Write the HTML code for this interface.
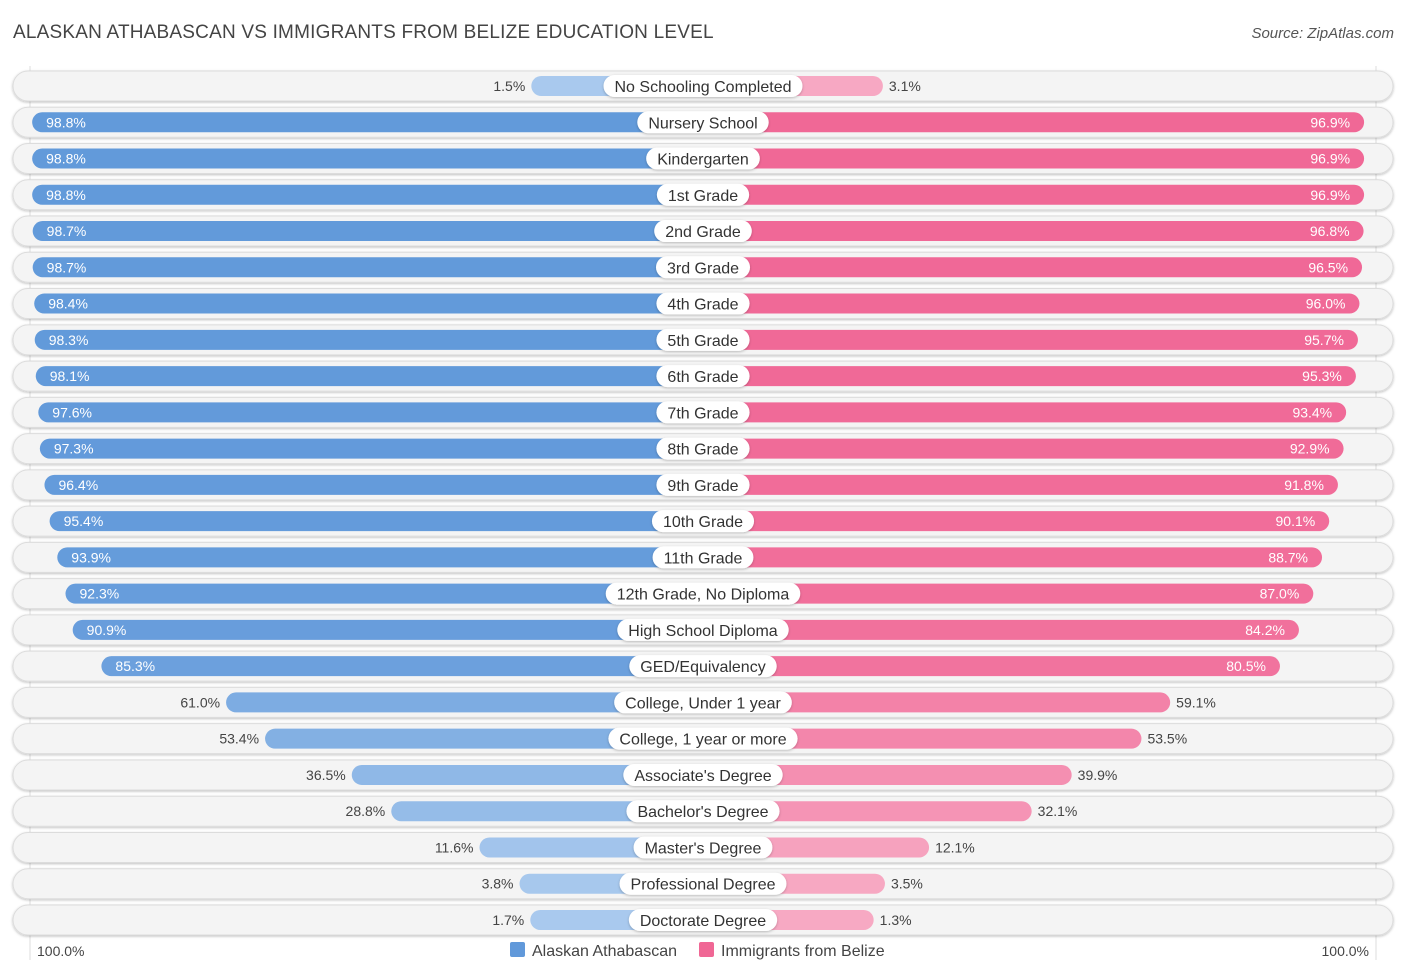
<!DOCTYPE html>
<html><head><meta charset="utf-8"><style>
body{margin:0;width:1406px;height:975px;background:#fff;font-family:"Liberation Sans",sans-serif;position:relative;overflow:hidden}
#title{position:absolute;left:13px;top:22px;font-size:19px;color:#444;letter-spacing:.2px}
#src{position:absolute;right:12px;top:25px;font-size:15px;color:#555;font-style:italic}
</style></head><body>
<div id="title">ALASKAN ATHABASCAN VS IMMIGRANTS FROM BELIZE EDUCATION LEVEL</div>
<div id="src">Source: ZipAtlas.com</div>
<svg id="chart" width="1406" height="975" style="position:absolute;left:0;top:0;font-family:'Liberation Sans',sans-serif"></svg>
<script>
const categories=["No Schooling Completed","Nursery School","Kindergarten","1st Grade","2nd Grade","3rd Grade","4th Grade","5th Grade","6th Grade","7th Grade","8th Grade","9th Grade","10th Grade","11th Grade","12th Grade, No Diploma","High School Diploma","GED/Equivalency","College, Under 1 year","College, 1 year or more","Associate's Degree","Bachelor's Degree","Master's Degree","Professional Degree","Doctorate Degree"];
const alaskan=[1.5,98.8,98.8,98.8,98.7,98.7,98.4,98.3,98.1,97.6,97.3,96.4,95.4,93.9,92.3,90.9,85.3,61.0,53.4,36.5,28.8,11.6,3.8,1.7];
const belize=[3.1,96.9,96.9,96.9,96.8,96.5,96.0,95.7,95.3,93.4,92.9,91.8,90.1,88.7,87.0,84.2,80.5,59.1,53.5,39.9,32.1,12.1,3.5,1.3];
const seriesNames=["Alaskan Athabascan","Immigrants from Belize"];
const axisLabel="100.0%";
const svg=document.getElementById('chart');const NS='http://www.w3.org/2000/svg';
const cx=703,y0=86,step=36.26;
function len(v){return 164+5.13*v;}
function rowY(i){return y0+i*step;}
function mix(a,b,t){return 'rgb('+a.map((x,k)=>Math.round(x+(b[k]-x)*t)).join(',')+')';}
const bL=[170,202,238],bD=[97,153,218],pL=[247,170,196],pD=[240,102,149];
function mk(tag,attrs,parent){const e=document.createElementNS(NS,tag);for(const k in attrs)e.setAttribute(k,attrs[k]);(parent||svg).appendChild(e);return e;}
const defs=mk('defs',{});
defs.innerHTML='<filter id="sh" x="-5%" y="-30%" width="110%" height="160%"><feDropShadow dx="0" dy="1" stdDeviation="1.2" flood-color="#000" flood-opacity="0.25"/></filter>';
let gl=mk('line',{x1:30,x2:30,y1:66,y2:960,stroke:'#ddd'});


gl=mk('line',{x1:1376,x2:1376,y1:66,y2:960,stroke:'#ddd'});


categories.forEach((c,i)=>{
 const y=rowY(i);
 const g=mk('g',{});
 
 
 const bg=mk('rect',{x:13,y:y-15,width:1380,height:30,rx:15,fill:'#f4f4f4',stroke:'#dcdcdc','stroke-width':1,filter:'url(#sh)'},g);
 
 
 const a=alaskan[i],b=belize[i];
 const la=len(a),lb=len(b);
 const ra=mk('rect',{x:cx-la,y:y-10,width:la,height:20,rx:10,fill:mix(bL,bD,a/100)},g);
 
 
 const rb=mk('rect',{x:cx,y:y-10,width:lb,height:20,rx:10,fill:mix(pL,pD,b/100)},g);
 
 
 const ins=a>70;
 const ta=mk('text',{x:ins?cx-la+14:cx-la-6,y:y+5,'font-size':14,fill:ins?'#fff':'#444','text-anchor':ins?'start':'end'},g);
 ta.textContent=a.toFixed(1)+'%';
 
 
 const insb=b>70;
 const tb=mk('text',{x:insb?cx+lb-14:cx+lb+6,y:y+5,'font-size':14,fill:insb?'#fff':'#444','text-anchor':insb?'end':'start'},g);
 tb.textContent=b.toFixed(1)+'%';
 
 
 const lt=mk('text',{x:cx,y:y+6,'font-size':16,fill:'#333','text-anchor':'middle'},g);
 lt.textContent=c;
 const w=lt.getComputedTextLength()+22;
 const pill=mk('rect',{x:cx-w/2,y:y-11,width:w,height:22,rx:11,fill:'#fff',filter:'url(#sh)'});
 g.insertBefore(pill,lt);
 
 
 
 
});
let t=mk('text',{x:37,y:956,'font-size':14,fill:'#444'});t.textContent=axisLabel;


t=mk('text',{x:1369,y:956,'font-size':14,fill:'#444','text-anchor':'end'});t.textContent=axisLabel;


const lg=[[510,'#6199da',seriesNames[0]],[699,'#f06795',seriesNames[1]]];
lg.forEach((l,k)=>{
 const g=mk('g',{});
 
 
 mk('rect',{x:l[0],y:942,width:15,height:15,rx:2,fill:l[1]},g);
 const tt=mk('text',{x:l[0]+22,y:956,'font-size':16,fill:'#444'},g);tt.textContent=l[2];
});
</script>
</body></html>
